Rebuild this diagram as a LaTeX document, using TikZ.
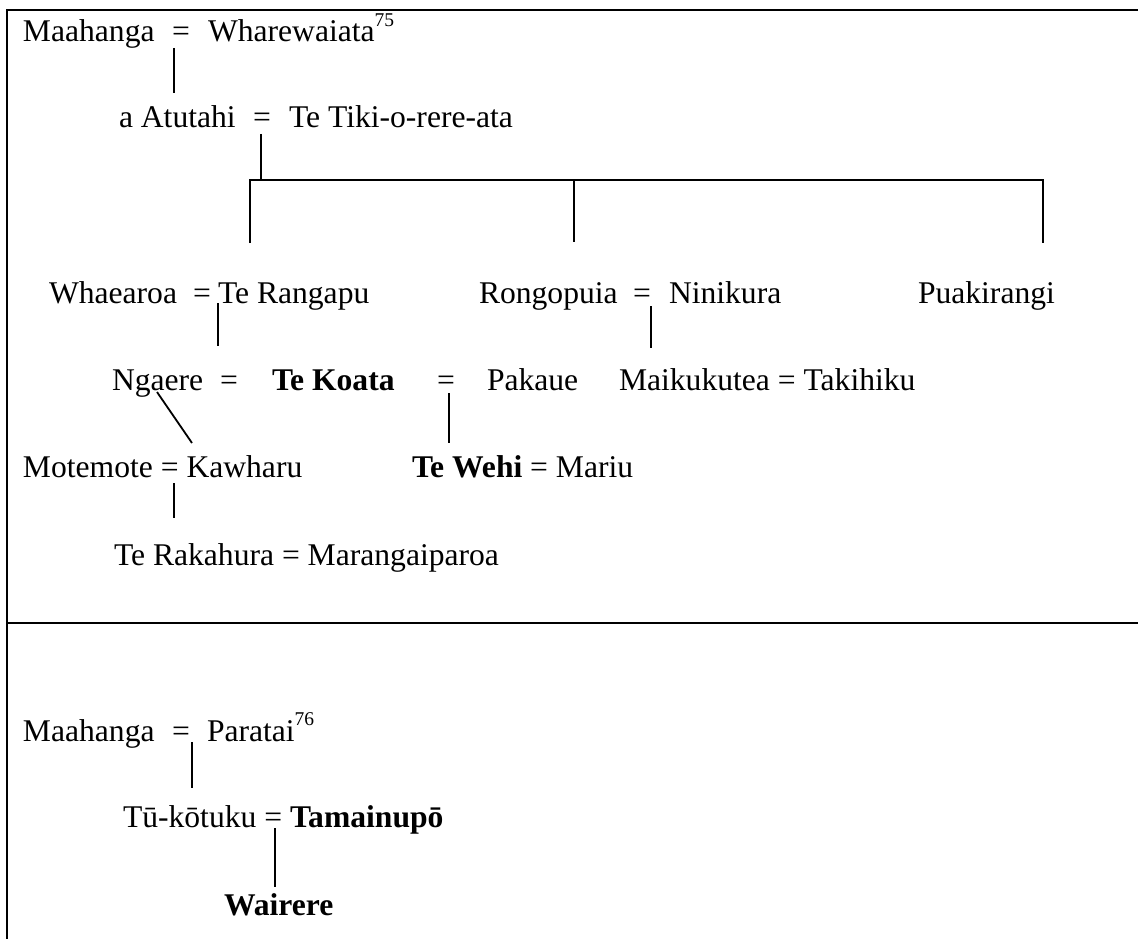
\documentclass[tikz,border=0pt]{standalone}
\usepackage{fontspec}
\setmainfont{Liberation Serif}
\newcommand{\supnum}[1]{\raisebox{15.5pt}{\fontsize{19.5}{20}\selectfont #1}}
\begin{document}
\begin{tikzpicture}[x=1pt,y=-1pt,
  person/.style={anchor=base west, inner sep=0pt, outer sep=0pt, font=\fontsize{31.6}{36}\selectfont},
  link/.style={line width=1.8pt},
  rulebox/.style={line width=2.2pt}]
\useasboundingbox (0,0) rectangle (1138,939);
% table rules
\coordinate (tl) at (7,10);
\coordinate (tr) at (1138,10);
\coordinate (bl) at (7,939);
\coordinate (ml) at (7,623);
\coordinate (mr) at (1138,623);
\draw[rulebox] (bl) -- (tl) -- (tr);
\draw[rulebox] (ml) -- (mr);
% row 1
\node[person] (maa1) at (23,42) {Maahanga};
\node[person] (eq1) at (172,42) {=};
\node[person] (whare) at (208,42) {Wharewaiata\supnum{75}};
% row 2
\node[person] (atu) at (119,128) {a Atutahi};
\node[person] (eq2) at (253,128) {=};
\node[person] (tiki) at (289,128) {Te Tiki-o-rere-ata};
% row 3
\node[person] (wha) at (49,303) {Whaearoa};
\node[person] (eq3) at (193,303) {=};
\node[person] (rang) at (218,303) {Te Rangapu};
\node[person] (rongo) at (479,303) {Rongopuia};
\node[person] (eq4) at (633,303) {=};
\node[person] (nini) at (669,303) {Ninikura};
\node[person] (puak) at (918,303) {Puakirangi};
% row 4
\node[person] (ngae) at (112,390) {Ngaere};
\node[person] (eq5) at (220,390) {=};
\node[person] (koata) at (272,390) {\textbf{Te Koata}};
\node[person] (eq6) at (437,390) {=};
\node[person] (paka) at (487,390) {Pakaue};
\node[person] (maik) at (619,390) {Maikukutea = Takihiku};
% row 5
\node[person] (mote) at (23,477) {Motemote = Kawharu};
\node[person] (wehi) at (412,477) {\textbf{Te Wehi} = Mariu};
% row 6
\node[person] (raka) at (114,565) {Te Rakahura = Marangaiparoa};
% lower cell
\node[person] (maa2) at (23,741) {Maahanga};
\node[person] (eq7) at (172,741) {=};
\node[person] (para) at (207,741) {Paratai\supnum{76}};
\node[person] (tuko) at (123,827) {Tū-kōtuku = \textbf{Tamainupō}};
\node[person] (wai) at (224,915) {\textbf{Wairere}};
% connectors
\coordinate (a1) at (174,48);   \coordinate (a2) at (174,93);
\draw[link] (a1) -- (a2);
\coordinate (b1) at (261,134);  \coordinate (b2) at (261,180);
\draw[link] (b1) -- (b2);
\coordinate (c1) at (250,243);  \coordinate (c2) at (250,180);
\coordinate (c3) at (1043,180); \coordinate (c4) at (1043,243);
\draw[link] (c1) -- (c2) -- (c3) -- (c4);
\coordinate (d1) at (574,180);  \coordinate (d2) at (574,242);
\draw[link] (d1) -- (d2);
\coordinate (e1) at (218,303);  \coordinate (e2) at (218,346);
\draw[link] (e1) -- (e2);
\coordinate (f1) at (651,306);  \coordinate (f2) at (651,348);
\draw[link] (f1) -- (f2);
\coordinate (g1) at (449,393);  \coordinate (g2) at (449,443);
\draw[link] (g1) -- (g2);
\coordinate (h1) at (157,392);  \coordinate (h2) at (192,443);
\draw[link] (h1) -- (h2);
\coordinate (i1) at (174,483);  \coordinate (i2) at (174,518);
\draw[link] (i1) -- (i2);
\coordinate (j1) at (192,742);  \coordinate (j2) at (192,788);
\draw[link] (j1) -- (j2);
\coordinate (k1) at (275,828);  \coordinate (k2) at (275,887);
\draw[link] (k1) -- (k2);
\end{tikzpicture}
\end{document}
